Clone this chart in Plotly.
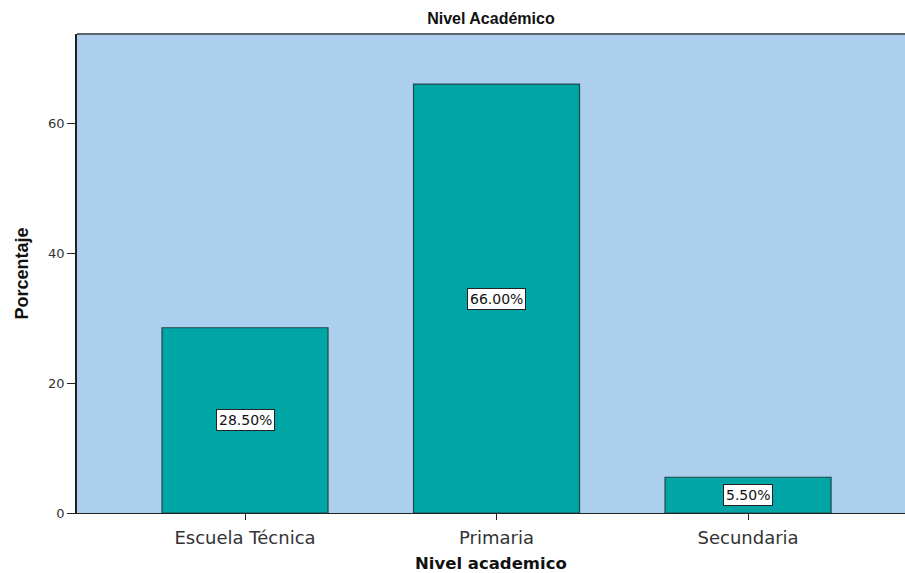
import plotly.graph_objects as go

# Nivel académico: porcentaje por categoría
categorias = ["Escuela Técnica", "Primaria", "Secundaria"]
porcentajes = [28.5, 66.0, 5.5]
etiquetas = [f"{v:.2f}%" for v in porcentajes]
y_ticks = [0, 20, 40, 60]

fig = go.Figure()
fig.add_trace(go.Bar(
    x=list(range(len(categorias))),
    y=porcentajes,
    width=0.66,
    marker=dict(color="#00A6A6", line=dict(color="#1E4848", width=1.2)),
    hoverinfo="skip",
))

# Recuadros con el valor de cada barra, a media altura
for i, (v, txt) in enumerate(zip(porcentajes, etiquetas)):
    fig.add_annotation(
        x=i, y=v / 2, text=txt, showarrow=False,
        font=dict(family="DejaVu Sans", size=14, color="#111"),
        bgcolor="white", bordercolor="#222", borderwidth=1, borderpad=2,
    )

fig.update_layout(
    width=905, height=573,
    margin=dict(l=77, r=0, t=34, b=60),
    paper_bgcolor="white",
    plot_bgcolor="#ABCFED",
    showlegend=False,
    title=dict(text="<b>Nivel Académico</b>", x=0.5425, xanchor="center",
               y=0.968, yanchor="middle",
               font=dict(family="Liberation Sans, Arial", size=16, color="#111")),
    font=dict(family="DejaVu Sans", color="#222"),
)

fig.update_xaxes(
    range=[-0.668, 2.624],
    tickmode="array", tickvals=list(range(len(categorias))), ticktext=categorias,
    ticks="outside", ticklen=6, tickcolor="#222",
    tickfont=dict(family="DejaVu Sans", size=18, color="#333"),
    ticklabelstandoff=2,
    showline=True, linecolor="#222", linewidth=1,
    showgrid=False, zeroline=False,
)
fig.update_yaxes(
    range=[0, 73.7],
    tickmode="array", tickvals=y_ticks,
    ticks="outside", ticklen=8, tickcolor="#222",
    tickfont=dict(family="DejaVu Sans", size=13, color="#333"),
    showline=True, linecolor="#222", linewidth=1.5,
    showgrid=False, zeroline=False,
)

# Títulos de los ejes
fig.add_annotation(
    xref="paper", yref="paper", x=0.5, y=0, yshift=-50, yanchor="middle",
    text="<b>Nivel academico</b>", showarrow=False,
    font=dict(family="DejaVu Sans", size=16.5, color="#111"),
)
fig.add_annotation(
    xref="paper", yref="paper", x=0, y=0.5, xshift=-56, xanchor="center",
    text="<b>Porcentaje</b>", textangle=-90, showarrow=False,
    font=dict(family="Liberation Sans, Arial", size=18, color="#111"),
)

# Borde superior del área de trazado
fig.add_shape(type="line", xref="paper", yref="paper", x0=0, x1=1, y0=1, y1=1,
              line=dict(color="#5A646C", width=2))

fig.write_html("out.html")
